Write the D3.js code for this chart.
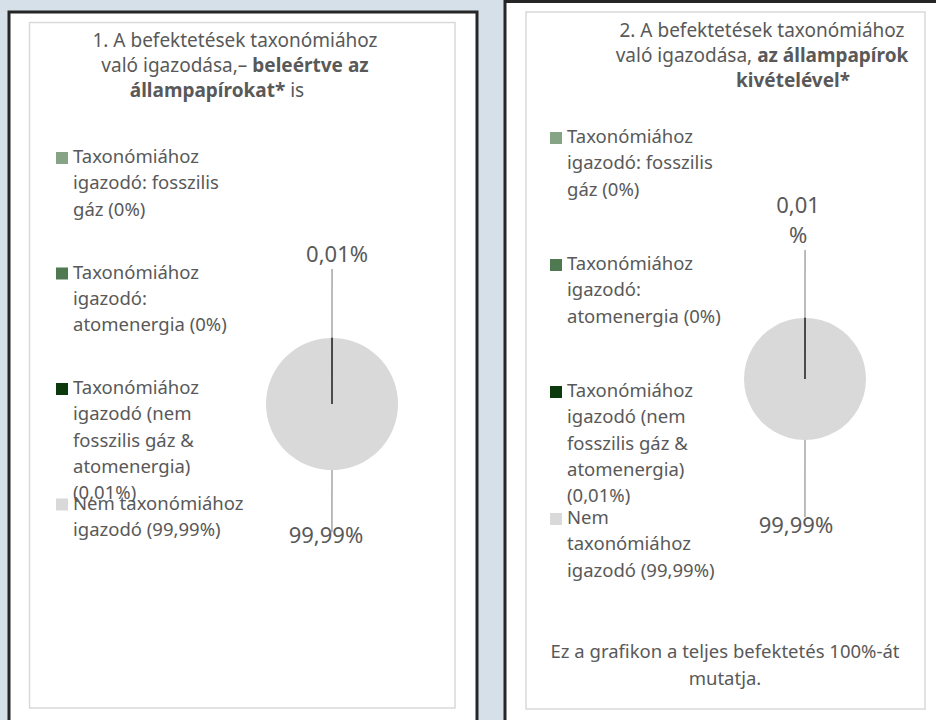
<!DOCTYPE html>
<html lang="hu">
<head>
<meta charset="utf-8">
<title>Taxonómiához igazodás</title>
<script src="https://cdn.jsdelivr.net/npm/d3@7"></script>
<style>
  html, body { margin: 0; padding: 0; background: #d5e0e8; }
  svg { display: block; font-family: "Noto Sans", sans-serif; }
</style>
</head>
<body>
<svg id="chart" width="936" height="720"></svg>
<script>
// --- adatok ---
const categories = [
  'Taxonómiához igazodó: fosszilis gáz (0%)',
  'Taxonómiához igazodó: atomenergia (0%)',
  'Taxonómiához igazodó (nem fosszilis gáz & atomenergia) (0,01%)',
  'Nem taxonómiához igazodó (99,99%)'
];
const valuesWithBonds = [0, 0, 0.01, 99.99];
const valuesWithoutBonds = [0, 0, 0.01, 99.99];

const title1 = [
  [['1. A befektetések taxonómiához', false]],
  [['való igazodása,– ', false], ['beleértve az', true]],
  [['állampapírokat*', true], [' is', false]]
];
const title2 = [
  [['2. A befektetések taxonómiához', false]],
  [['való igazodása, ', false], ['az állampapírok', true]],
  [['kivételével*', true]]
];
const footnote2 = ['Ez a grafikon a teljes befektetés 100%-át', 'mutatja.'];

const sliceColors = ['#87a386', '#4f7a51', '#0c3a0c', '#d9d9d9'];
const textColor = '#595959';

const huFormat = d3.formatLocale({ decimal: ',', thousands: ' ', grouping: [3], currency: ['', ' Ft'] });
const pct = v => huFormat.format('.2f')(v) + '%';

const panels = [
  {
    frame: [9, 12, 468, 730], plot: [29.5, 22.5, 425.5, 685.5],
    title: title1, titleX: 235, titleY: 47, titleDx: [0, 0, -18],
    values: valuesWithBonds, cx: 332, cy: 404, r: 66,
    legendX: 56, legendY: 163, legendStep: 115.5, legendWrap: 175,
    labelWrap: { top: 200, bottom: 200 }, leader: { top: 69, bottom: 62 },
    labelDy: { top: -7, bottom: 11 }, labelDx: { top: 5, bottom: -6 }
  },
  {
    frame: [505, 1.5, 450, 730], plot: [526, 12, 399, 697],
    title: title2, titleX: 762, titleY: 37, titleDx: [0, 0, 31],
    values: valuesWithoutBonds, cx: 805, cy: 379, r: 61,
    legendX: 550, legendY: 143, legendStep: 127, legendWrap: 162,
    labelWrap: { top: 55, bottom: 200 }, leader: { top: 68, bottom: 77 },
    labelDy: { top: -7, bottom: 16 }, labelDx: { top: -7, bottom: -9 },
    footnote: footnote2, footX: 725, footY: 658
  }
];

const svg = d3.select('#chart');

// szövegszélesség méréshez
const meas = svg.append('text').attr('visibility', 'hidden');
function measure(str, size) {
  meas.attr('font-size', size).text(str);
  return meas.node().getComputedTextLength();
}
function wrapLines(str, maxW, size) {
  const words = str.split(' ');
  const lines = [];
  let cur = '';
  words.forEach(w => {
    const test = cur ? cur + ' ' + w : w;
    if (cur && measure(test, size) > maxW) { lines.push(cur); cur = w; } else cur = test;
  });
  lines.push(cur);
  return lines;
}

panels.forEach(p => {
  const g = svg.append('g');

  // keret
  g.append('rect')
    .attr('x', p.frame[0]).attr('y', p.frame[1])
    .attr('width', p.frame[2]).attr('height', p.frame[3])
    .attr('fill', '#fff').attr('stroke', '#262626').attr('stroke-width', 3);
  g.append('rect')
    .attr('x', p.plot[0]).attr('y', p.plot[1])
    .attr('width', p.plot[2]).attr('height', p.plot[3])
    .attr('fill', '#fff').attr('stroke', '#d9d9d9').attr('stroke-width', 1.5);

  // cím
  p.title.forEach((line, i) => {
    const t = g.append('text')
      .attr('x', p.titleX + p.titleDx[i]).attr('y', p.titleY + i * 25)
      .attr('text-anchor', 'middle').attr('font-size', 19).attr('fill', textColor);
    line.forEach(([s, bold]) => {
      t.append('tspan').attr('font-weight', bold ? 700 : 400).text(s);
    });
  });

  // jelmagyarázat
  const legendFont = 18.5;
  categories.forEach((c, i) => {
    const y0 = p.legendY + i * p.legendStep;
    g.append('rect')
      .attr('x', p.legendX).attr('y', y0 - 11)
      .attr('width', 12).attr('height', 12)
      .attr('fill', sliceColors[i]);
    const t = g.append('text')
      .attr('font-size', legendFont).attr('fill', textColor);
    wrapLines(c, p.legendWrap, legendFont).forEach((ln, j) => {
      t.append('tspan').attr('x', p.legendX + 17).attr('y', y0 + j * 26.3).text(ln);
    });
  });

  // kördiagram
  const pie = d3.pie().sort(null).value(d => d);
  const arcs = pie(p.values).map((a, i) => ({ ...a, i }));
  const arc = d3.arc().innerRadius(0).outerRadius(p.r);
  const shown = arcs.filter(a => a.value > 0).sort((a, b) => b.value - a.value);

  g.append('g').attr('transform', `translate(${p.cx},${p.cy})`)
    .selectAll('path').data(shown).join('path')
    .attr('d', arc)
    .attr('fill', d => sliceColors[d.i])
    .attr('stroke', d => d.value < 1 ? '#1e1e1e' : 'none')
    .attr('stroke-width', 1.5);

  // címkék vezetővonallal
  const labelFont = 22;
  shown.forEach(a => {
    const mid = (a.startAngle + a.endAngle) / 2;
    const pos = Math.cos(mid) > 0 ? 'top' : 'bottom';
    const len = p.leader[pos];
    const x1 = p.cx + p.r * Math.sin(mid), y1 = p.cy - p.r * Math.cos(mid);
    const x2 = p.cx + (p.r + len) * Math.sin(mid), y2 = p.cy - (p.r + len) * Math.cos(mid);
    g.append('line')
      .attr('x1', x1).attr('y1', y1).attr('x2', x2).attr('y2', y2)
      .attr('stroke', '#a6a6a6').attr('stroke-width', 1.5);

    const label = pct(a.value);
    let lines = [label];
    if (measure(label, labelFont) > p.labelWrap[pos]) lines = [label.slice(0, -1), '%'];
    const t = g.append('text')
      .attr('font-size', labelFont).attr('fill', textColor).attr('text-anchor', 'middle');
    lines.forEach((ln, j) => {
      const yb = pos === 'top'
        ? y2 + p.labelDy.top - (lines.length - 1 - j) * 30
        : y2 + p.labelDy.bottom + j * 30;
      t.append('tspan').attr('x', x2 + p.labelDx[pos]).attr('y', yb).text(ln);
    });
  });

  // lábjegyzet
  if (p.footnote) {
    p.footnote.forEach((ln, i) => {
      g.append('text')
        .attr('x', p.footX).attr('y', p.footY + i * 27)
        .attr('text-anchor', 'middle').attr('font-size', 18.5).attr('fill', textColor)
        .text(ln);
    });
  }
});

meas.remove();
</script>
</body>
</html>
